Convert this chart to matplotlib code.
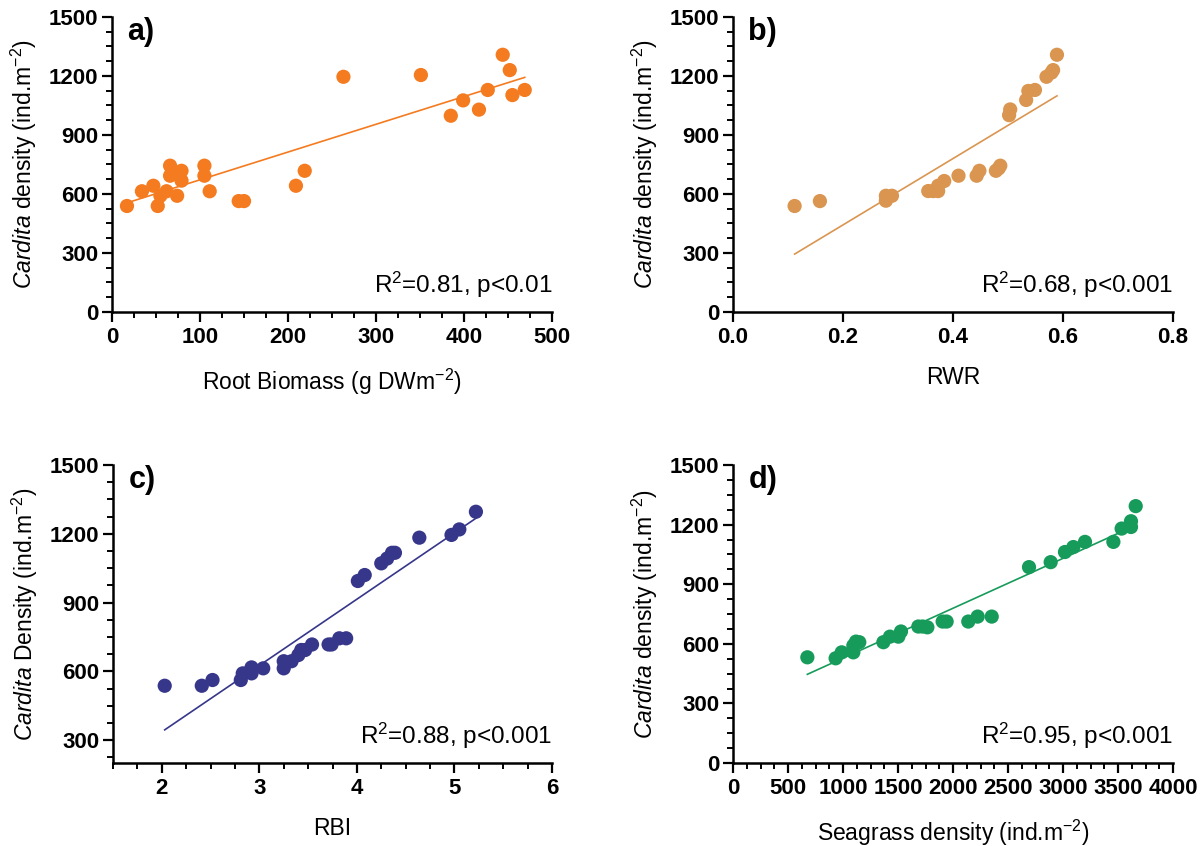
import numpy as np
import matplotlib
matplotlib.use("Agg")
import matplotlib.pyplot as plt
from matplotlib.ticker import MultipleLocator, FormatStrFormatter

plt.rcParams['font.family'] = ['Liberation Sans', 'DejaVu Sans']
plt.rcParams['mathtext.fontset'] = 'custom'
plt.rcParams['mathtext.rm'] = 'Liberation Sans'
plt.rcParams['mathtext.it'] = 'Liberation Sans:italic'
plt.rcParams['mathtext.bf'] = 'Liberation Sans:bold'

# a) root biomass vs Cardita density
biomass = [17, 34, 47, 52, 55, 62, 66, 66, 74, 74, 79, 79, 105, 105, 111,
           144, 150, 209, 219, 263, 351, 385, 399, 417, 427, 444, 452, 455, 469]
dens_a = [539, 614, 642, 539, 591, 614, 744, 693, 591, 705, 718, 668, 744, 693, 614,
          564, 564, 642, 718, 1196, 1205, 998, 1076, 1029, 1129, 1308, 1230, 1103, 1129]

# b) RWR
rwr = [0.112, 0.158, 0.278, 0.278, 0.289, 0.355, 0.364, 0.373, 0.373, 0.384,
       0.410, 0.443, 0.448, 0.478, 0.483, 0.486, 0.502, 0.504, 0.533, 0.537,
       0.549, 0.570, 0.579, 0.582, 0.589]
dens_b = [539, 564, 591, 566, 591, 615, 615, 615, 642, 666,
          693, 693, 718, 718, 730, 744, 1001, 1030, 1078, 1124,
          1129, 1196, 1217, 1230, 1308]

# c) RBI
rbi = [2.03, 2.41, 2.52, 2.81, 2.83, 2.92, 2.92, 3.04, 3.25, 3.25, 3.33, 3.40,
       3.43, 3.47, 3.54, 3.71, 3.74, 3.82, 3.89, 4.01, 4.08, 4.25, 4.31, 4.36,
       4.39, 4.64, 4.97, 5.05, 5.22]
dens_c = [537, 537, 562, 562, 591, 591, 617, 613, 613, 644, 644, 671,
          693, 693, 717, 717, 717, 744, 744, 994, 1020, 1071, 1092, 1117,
          1117, 1183, 1195, 1219, 1296]

# d) seagrass density
seagrass = [676, 933, 988, 1094, 1094, 1118, 1148, 1367, 1427, 1503, 1527, 1685,
            1724, 1767, 1906, 1942, 2139, 2224, 2352, 2691, 2888, 3018, 3094, 3200,
            3458, 3533, 3618, 3618, 3661]
dens_d = [532, 527, 557, 557, 591, 611, 608, 608, 636, 636, 662, 687,
          687, 683, 712, 712, 712, 737, 737, 986, 1011, 1062, 1087, 1113,
          1113, 1180, 1188, 1217, 1293]

panels = [
    dict(x=biomass, y=dens_a, color='#F47B20', letter='a)',
         xlabel='Root Biomass (g DWm$^{-2}$)',
         ylabel=r'$\it{Cardita}$ density (ind.m$^{-2}$)',
         stat='R$^{2}$=0.81, p<0.01', xlim=(0, 500), xmaj=100, xmin=25,
         ylim=(0, 1500), fmt='%d'),
    dict(x=rwr, y=dens_b, color='#DA9550', letter='b)', xlabel='RWR',
         ylabel=r'$\it{Cardita}$ density (ind.m$^{-2}$)',
         stat='R$^{2}$=0.68, p<0.001', xlim=(0, 0.8), xmaj=0.2, xmin=None,
         ylim=(0, 1500), fmt='%.1f'),
    dict(x=rbi, y=dens_c, color='#36368A', letter='c)', xlabel='RBI',
         ylabel=r'$\it{Cardita}$ Density (ind.m$^{-2}$)',
         stat='R$^{2}$=0.88, p<0.001', xlim=(1.5, 6), xmaj=1, xmin=0.25,
         ylim=(200, 1500), fmt='%d'),
    dict(x=seagrass, y=dens_d, color='#179B5B', letter='d)',
         xlabel='Seagrass density (ind.m$^{-2}$)',
         ylabel=r'$\it{Cardita}$ density (ind.m$^{-2}$)',
         stat='R$^{2}$=0.95, p<0.001', xlim=(0, 4000), xmaj=500, xmin=125,
         ylim=(0, 1500), fmt='%d'),
]

fig = plt.figure(figsize=(12.04, 8.46), dpi=100)
W, H = 1204, 846
boxes = [(112, 17, 552, 312), (733, 17, 1173, 312),
         (113, 465, 552, 763), (733, 465, 1173, 763)]

for p, (l, t, r, b) in zip(panels, boxes):
    ax = fig.add_axes([l / W, 1 - b / H, (r - l) / W, (b - t) / H])
    x = np.array(p['x'])
    y = np.array(p['y'])
    ax.scatter(x, y, s=105, color=p['color'], edgecolors='none', zorder=3, clip_on=False)
    k, c0 = np.polyfit(x, y, 1)
    xs = np.array([x.min(), x.max()])
    ax.plot(xs, k * xs + c0, color=p['color'], lw=1.2, zorder=2)

    ax.set_xlim(*p['xlim'])
    ax.set_ylim(*p['ylim'])
    ax.xaxis.set_major_locator(MultipleLocator(p['xmaj']))
    if p['xmin']:
        ax.xaxis.set_minor_locator(MultipleLocator(p['xmin']))
    ax.xaxis.set_major_formatter(FormatStrFormatter(p['fmt']))
    ax.yaxis.set_major_locator(MultipleLocator(300))
    ax.yaxis.set_minor_locator(MultipleLocator(75))

    for s in ['top', 'right']:
        ax.spines[s].set_visible(False)
    for s in ['left', 'bottom']:
        ax.spines[s].set_linewidth(1.8)
    ax.tick_params(which='major', length=7, width=1.6, labelsize=16)
    ax.tick_params(axis='x', which='major', pad=4)
    ax.tick_params(axis='y', which='major', pad=3)
    ax.tick_params(which='minor', length=4, width=1.4)
    for lab in ax.get_xticklabels() + ax.get_yticklabels():
        lab.set_fontweight('bold')

    ax.set_xlabel(p['xlabel'], fontsize=16.5, labelpad=13)
    ax.set_ylabel(p['ylabel'], fontsize=16.5, labelpad=7)
    ax.text(0.035, 1.0, p['letter'], transform=ax.transAxes, fontsize=22,
            fontweight='bold', ha='left', va='top')
    ax.text(1.0, 0.04, p['stat'], transform=ax.transAxes, fontsize=17.5,
            ha='right', va='bottom')

fig.savefig('out.png', dpi=100)
